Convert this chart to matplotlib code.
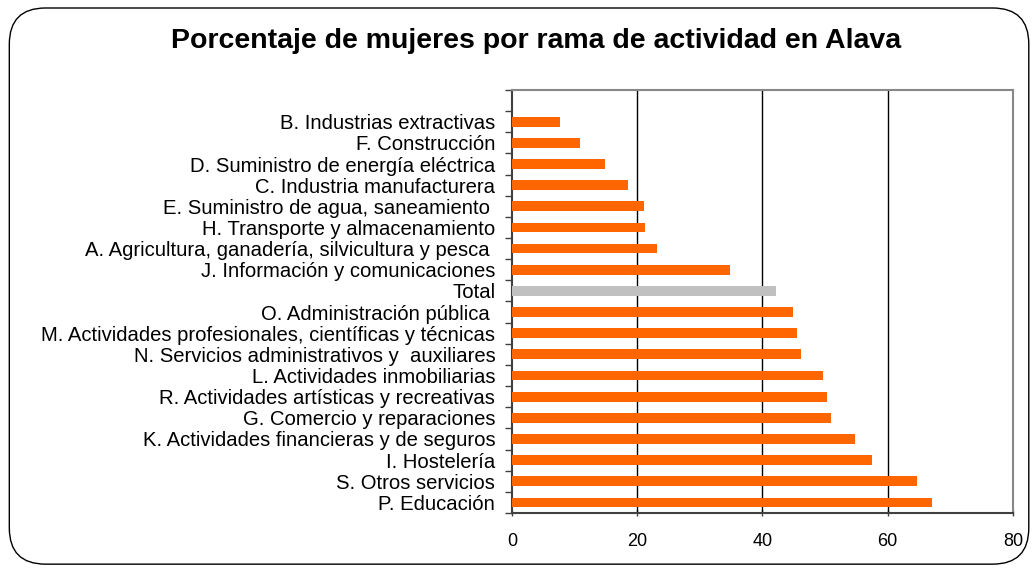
import matplotlib.pyplot as plt
import numpy as np
from matplotlib.patches import FancyBboxPatch

plt.rcParams["font.family"] = ["Liberation Sans", "DejaVu Sans"]

# Categories from top to bottom, as shown in the chart
labels = [
    "B. Industrias extractivas",
    "F. Construcción",
    "D. Suministro de energía eléctrica",
    "C. Industria manufacturera",
    "E. Suministro de agua, saneamiento ",
    "H. Transporte y almacenamiento",
    "A. Agricultura, ganadería, silvicultura y pesca ",
    "J. Información y comunicaciones",
    "Total",
    "O. Administración pública ",
    "M. Actividades profesionales, científicas y técnicas",
    "N. Servicios administrativos y  auxiliares",
    "L. Actividades inmobiliarias",
    "R. Actividades artísticas y recreativas",
    "G. Comercio y reparaciones",
    "K. Actividades financieras y de seguros",
    "I. Hostelería",
    "S. Otros servicios",
    "P. Educación",
]
values = [7.6, 10.8, 14.8, 18.6, 21.0, 21.3, 23.1, 34.8, 42.2, 44.9,
          45.5, 46.1, 49.6, 50.3, 51.0, 54.8, 57.5, 64.7, 67.1]

ORANGE = "#FF6600"
GREY = "#C0C0C0"

fig = plt.figure(figsize=(10.35, 5.71), dpi=100)
fig.patch.set_facecolor("white")

# Rounded frame around the whole chart
frame = FancyBboxPatch(
    (0.009, 0.012), 0.985, 0.974,
    boxstyle="round,pad=0,rounding_size=0.035",
    transform=fig.transFigure, facecolor="none", edgecolor="black",
    linewidth=1.0, mutation_aspect=1035 / 571,
)
fig.patches.append(frame)

ax = fig.add_axes([0.4947, 0.1016, 0.4840, 0.7408])

n = len(labels)
ypos = np.arange(n)[::-1]  # top label gets highest y
colors = [GREY if lab == "Total" else ORANGE for lab in labels]
ax.barh(ypos, values, height=0.46, color=colors, zorder=3)

ax.set_xlim(0, 80)
ax.set_ylim(-0.5, n + 0.5)
ax.set_xticks([0, 20, 40, 60, 80])
ax.tick_params(axis="x", labelsize=13, length=5, width=1.0,
               direction="inout", pad=12, colors="#404040", labelcolor="black")

ax.set_yticks(ypos)
ax.set_yticklabels(labels, fontsize=14.6)
ax.tick_params(axis="y", length=0, pad=12)
ax.set_yticks(np.arange(-0.5, n + 1, 1.0), minor=True)
ax.tick_params(axis="y", which="minor", length=5, width=1.0, color="#404040")

for x in [20, 40, 60]:
    ax.axvline(x, color="black", linewidth=1.0, zorder=2)

for side in ["left", "bottom"]:
    ax.spines[side].set_color("#404040")
    ax.spines[side].set_linewidth(1.5)
for side in ["top", "right"]:
    ax.spines[side].set_color("#888888")
    ax.spines[side].set_linewidth(1.5)

fig.text(0.518, 0.928, "Porcentaje de mujeres por rama de actividad en Alava",
         ha="center", va="center", fontsize=20.5, fontweight="bold")

fig.savefig("out.png", dpi=100)
